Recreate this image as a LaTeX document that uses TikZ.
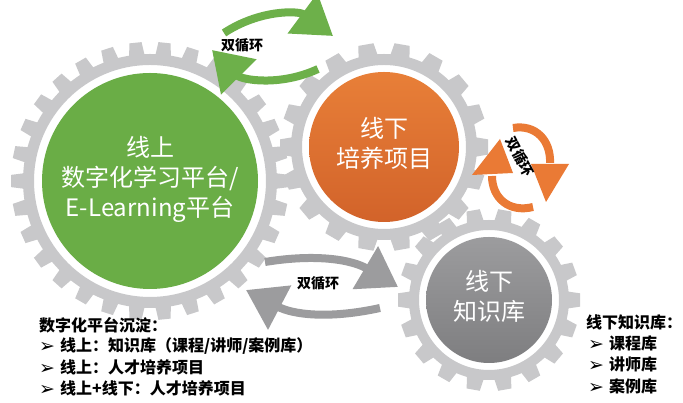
\documentclass[tikz,border=0pt]{standalone}
\usepackage{fontspec}
\setmainfont{Noto Sans CJK SC}
\newfontfamily\dejavu{DejaVu Sans}
\usetikzlibrary{arrows.meta}
\definecolor{gearc}{HTML}{C8C8CA}
\definecolor{greenc}{HTML}{6AAD46}
\definecolor{orangetop}{HTML}{E87F38}
\definecolor{orangebot}{HTML}{D2632A}
\definecolor{graytop}{HTML}{9C9C9E}
\definecolor{graybot}{HTML}{7E7E80}
\definecolor{garrow}{HTML}{6DB04A}
\definecolor{oarrow}{HTML}{EA7A35}
\definecolor{grarrow}{HTML}{9C9C9E}
% name, x, y, r inner, r outer, r teeth, n
\newcommand{\mygear}[7]{%
  \coordinate (#1) at (#2,#3);
  \fill[gearc, even odd rule] (#1) circle (#5) (#1) circle (#4);
  \pgfmathsetmacro\gstep{360/#7}
  \pgfmathsetmacro\gbw{0.27*2*pi*#6/#7}
  \pgfmathsetmacro\gtw{0.21*2*pi*#6/#7}
  \foreach \k in {1,...,#7} {
    \fill[gearc, shift={(#1)}, rotate=\k*\gstep]
      ({#5-2},{-\gbw}) -- (#6,{-\gtw}) -- (#6,\gtw) -- ({#5-2},\gbw) -- cycle;
  }
}
\tikzset{
  arr/.style={line width=8pt, -{Triangle[width=48pt,length=38pt]}},
  lbl/.style={font=\bfseries\fontsize{14}{14}\selectfont, inner sep=1pt},
  gtext/.style={font=\fontsize{24}{30}\selectfont, text=white, align=center},
  btext/.style={font=\bfseries\fontsize{16}{18}\selectfont, anchor=west, inner sep=0pt},
}
\newcommand{\bul}{{\dejavu\fontsize{19}{16}\selectfont\raisebox{-1pt}{➢}}\hspace{5pt}}
\begin{document}
\begin{tikzpicture}[x=1pt,y=1pt]
\useasboundingbox[fill=white] (0,0) rectangle (683,403);
% gears
\mygear{g1}{150}{222}{116}{127}{139}{30}
\mygear{g2}{384}{256}{82}{93}{104}{18}
\mygear{g3}{489}{103}{70}{80}{91}{18}
% inner discs
\fill[greenc] (g1) circle (108);
\shade[top color=orangetop, bottom color=orangebot] (g2) circle (75);
\shade[top color=graytop, bottom color=graybot] (g3) circle (63);
\node[gtext] (t1) at (150,224) {线上\\数字化学习平台/\\E-Learning平台};
\node[gtext] (t2) at (384,260) {线下\\培养项目};
\node[gtext] (t3) at (489,107) {线下\\知识库};
% green arrows
\coordinate (ga1) at (224,370);
\coordinate (gb1) at (333,367);
\coordinate (ga2) at (318,334);
\coordinate (gb2) at (212,353);
\draw[arr, garrow] (ga1) to[bend left=35] (gb1);
\draw[arr, garrow] (ga2) to[bend left=35] (gb2);
\node[lbl] (l1) at (242,358) {双循环};
% orange arrows (drawn by hand)
\coordinate (oa1) at (513,275);
\coordinate (ob1) at (550,240);
\coordinate (ot1) at (546,201);
\draw[oarrow, line width=8pt] (oa1) .. controls (536,279) and (551,262) .. (ob1);
\fill[oarrow] (531,239) -- (569,239) -- (ot1) -- cycle;
\coordinate (oa2) at (533,196);
\coordinate (ob2) at (492,227);
\coordinate (ot2) at (500,264);
\draw[oarrow, line width=8pt] (oa2) .. controls (509,190) and (492,205) .. (ob2);
\fill[oarrow] (472,228) -- (513,230) -- (ot2) -- cycle;
\node[lbl, rotate=-62] (l2) at (520,246) {双循环};
% gray arrows
\coordinate (ra1) at (265,141);
\coordinate (rb1) at (398,116);
\coordinate (ra2) at (380,95);
\coordinate (rb2) at (246,113);
\draw[arr, grarrow] (ra1) to[bend left=20] (rb1);
\draw[arr, grarrow] (ra2) to[bend left=20] (rb2);
\node[lbl] (l3) at (318,120) {双循环};
% bottom-left text
\node[btext] (b0) at (39,78) {数字化平台沉淀：};
\node[btext] (b1) at (39,57) {\bul 线上：知识库（课程/讲师/案例库）};
\node[btext] (b2) at (39,36) {\bul 线上：人才培养项目};
\node[btext] (b3) at (39,15) {\bul 线上+线下：人才培养项目};
% bottom-right text
\node[btext] (c0) at (586,81) {线下知识库：};
\node[btext] (c1) at (588,60) {\bul 课程库};
\node[btext] (c2) at (588,39) {\bul 讲师库};
\node[btext] (c3) at (588,17) {\bul 案例库};
\end{tikzpicture}
\end{document}
